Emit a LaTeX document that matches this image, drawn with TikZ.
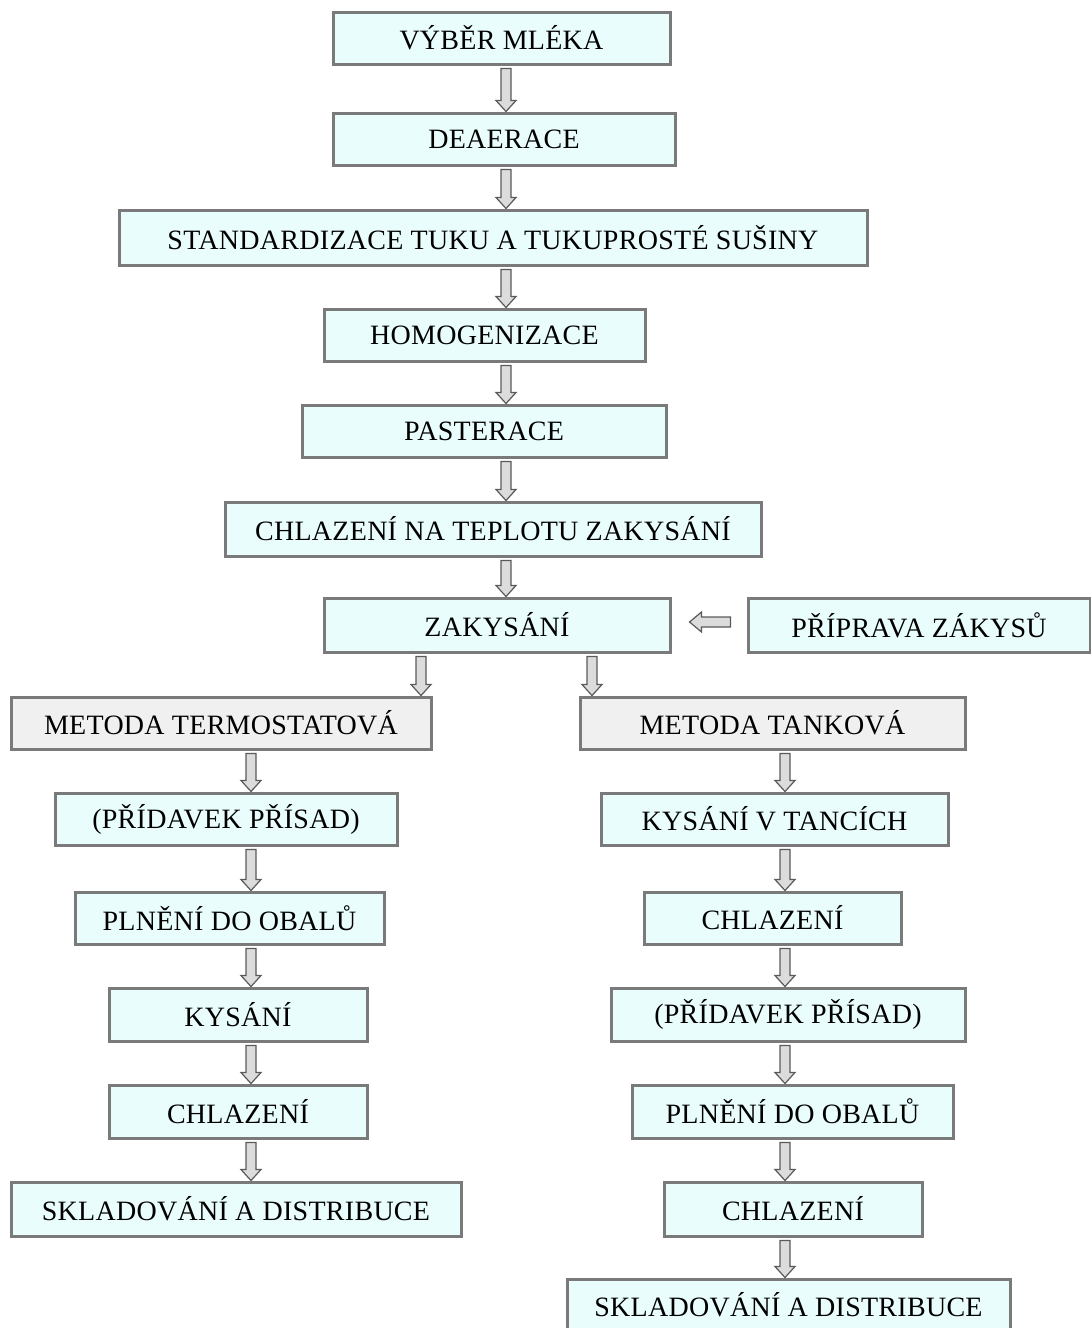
\documentclass[tikz,border=0pt]{standalone}
\usepackage{fontspec}
\setmainfont{Liberation Serif}
\usepackage{tikz}
\usetikzlibrary{calc}
\definecolor{stagefill}{HTML}{EAFDFD}
\definecolor{methodfill}{HTML}{F0F0F0}
\definecolor{frame}{HTML}{7A7A7A}
\definecolor{flowfill}{HTML}{DCDCDC}
\definecolor{flowline}{HTML}{5A5A5A}

% block arrow downwards: x position, source node, target node
\newcommand{\flowdown}[3]{%
  \draw[flow] let \p1=(#2.south), \p2=(#3.north) in
    ({#1-5},\y1-3pt) -- ({#1+5},\y1-3pt) -- ({#1+5},\y2+11pt) -- ({#1+10},\y2+11pt)
    -- (#1,\y2) -- ({#1-10},\y2+11pt) -- ({#1-5},\y2+11pt) -- cycle;}
% block arrow to the left: y position, source node, target node
\newcommand{\flowleft}[3]{%
  \draw[flow] let \p1=(#2.west), \p2=(#3.east) in
    (\x1-16pt,{#1-5}) -- (\x1-16pt,{#1+5}) -- (\x2+30pt,{#1+5}) -- (\x2+30pt,{#1+10})
    -- (\x2+18pt,#1) -- (\x2+30pt,{#1-10}) -- (\x2+30pt,{#1-5}) -- cycle;}

\begin{document}
\begin{tikzpicture}[
  x=1pt, y=-1pt,
  stage/.style={draw=frame, fill=stagefill, line width=3pt, inner sep=0pt,
                font=\fontsize{28}{32}\selectfont\addfontfeature{LetterSpace=1}},
  method/.style={stage, fill=methodfill},
  flow/.style={draw=flowline, fill=flowfill, line width=1.2pt, line join=miter}
]
\useasboundingbox (0,0) rectangle (1090,1328);

% main line
\node[stage, minimum width=337pt, minimum height=52pt] (vyber) at (501.5,38) {VÝBĚR MLÉKA};
\node[stage, minimum width=342pt, minimum height=52pt] (deaer) at (504,139) {DEAERACE};
\node[stage, minimum width=748pt, minimum height=55pt] (stand) at (493,237.5) {STANDARDIZACE TUKU A TUKUPROSTÉ SUŠINY};
\node[stage, minimum width=321pt, minimum height=52pt] (homog) at (484.5,335) {HOMOGENIZACE};
\node[stage, minimum width=364pt, minimum height=52pt] (paster) at (484,431) {PASTERACE};
\node[stage, minimum width=536pt, minimum height=54pt] (chlaz) at (493,529) {CHLAZENÍ NA TEPLOTU ZAKYSÁNÍ};
\node[stage, minimum width=346pt, minimum height=54pt] (zakys) at (497,625) {ZAKYSÁNÍ};
\node[stage, minimum width=342pt, minimum height=54pt] (priprava) at (919,625) {PŘÍPRAVA ZÁKYSŮ};

% two methods
\node[method, minimum width=420pt, minimum height=52pt] (termo) at (221,723) {METODA TERMOSTATOVÁ};
\node[method, minimum width=385pt, minimum height=52pt] (tank) at (772.5,723) {METODA TANKOVÁ};

% thermostat branch
\node[stage, minimum width=342pt, minimum height=52pt] (tprid) at (226,819) {(PŘÍDAVEK PŘÍSAD)};
\node[stage, minimum width=309pt, minimum height=52pt] (tplne) at (229.5,918) {PLNĚNÍ DO OBALŮ};
\node[stage, minimum width=258pt, minimum height=53pt] (tkys) at (238,1014.5) {KYSÁNÍ};
\node[stage, minimum width=258pt, minimum height=53pt] (tchl) at (238,1111.5) {CHLAZENÍ};
\node[stage, minimum width=450pt, minimum height=54pt] (tskl) at (236,1209) {SKLADOVÁNÍ A DISTRIBUCE};

% tank branch
\node[stage, minimum width=347pt, minimum height=52pt] (kkys) at (774.5,819) {KYSÁNÍ V TANCÍCH};
\node[stage, minimum width=257pt, minimum height=52pt] (kchl) at (772.5,918) {CHLAZENÍ};
\node[stage, minimum width=354pt, minimum height=53pt] (kprid) at (788,1014.5) {(PŘÍDAVEK PŘÍSAD)};
\node[stage, minimum width=321pt, minimum height=53pt] (kplne) at (792.5,1111.5) {PLNĚNÍ DO OBALŮ};
\node[stage, minimum width=258pt, minimum height=54pt] (kchl2) at (793,1209) {CHLAZENÍ};
\node[stage, minimum width=443pt, minimum height=52pt] (kskl) at (788.5,1305) {SKLADOVÁNÍ A DISTRIBUCE};

% arrows
\flowdown{506}{vyber}{deaer}
\flowdown{506}{deaer}{stand}
\flowdown{506}{stand}{homog}
\flowdown{506}{homog}{paster}
\flowdown{506}{paster}{chlaz}
\flowdown{506}{chlaz}{zakys}
\flowleft{622}{priprava}{zakys}
\flowdown{421}{zakys}{termo}
\flowdown{592}{zakys}{tank}
\flowdown{251}{termo}{tprid}
\flowdown{251}{tprid}{tplne}
\flowdown{251}{tplne}{tkys}
\flowdown{251}{tkys}{tchl}
\flowdown{251}{tchl}{tskl}
\flowdown{785}{tank}{kkys}
\flowdown{785}{kkys}{kchl}
\flowdown{785}{kchl}{kprid}
\flowdown{785}{kprid}{kplne}
\flowdown{785}{kplne}{kchl2}
\flowdown{785}{kchl2}{kskl}
\end{tikzpicture}
\end{document}
